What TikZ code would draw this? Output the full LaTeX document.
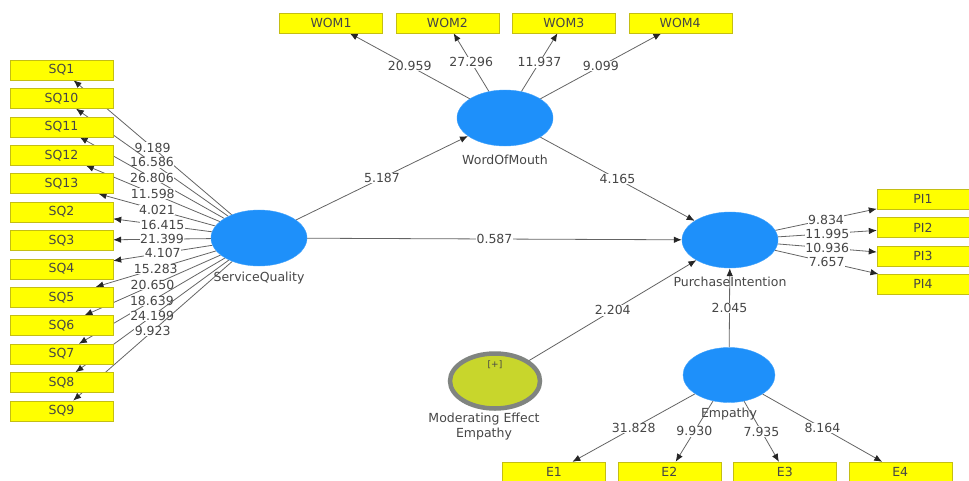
\documentclass[tikz,border=0pt]{standalone}
\usepackage{fontspec}
\setmainfont{DejaVu Sans}
\usepackage{xcolor}
\usepackage{tikz}
\usetikzlibrary{positioning, arrows.meta, shapes.geometric, backgrounds}
\definecolor{itemYellow}{RGB}{255,255,0}
\definecolor{itemEdge}{RGB}{196,190,20}
\definecolor{latentBlue}{RGB}{30,144,250}
\definecolor{modGreen}{RGB}{200,214,44}
\definecolor{modRing}{RGB}{128,132,128}
\definecolor{inkGray}{RGB}{70,70,70}
\definecolor{pathGray}{RGB}{100,100,100}
\tikzset{
    item/.style={rectangle, draw=itemEdge, fill=itemYellow, minimum width=103pt, minimum height=20pt, inner sep=0pt, text=inkGray, font=\fontsize{12.5}{14}\selectfont},
    latent/.style={ellipse, draw=latentBlue!85!white, fill=latentBlue, minimum width=96pt, minimum height=56pt, inner sep=0pt},
    moderator/.style={ellipse, draw=modRing, line width=4.5pt, fill=modGreen, minimum width=90pt, minimum height=55pt, inner sep=0pt},
    lvlabel/.style={text=inkGray, font=\fontsize{12.5}{15}\selectfont, align=center},
    coef/.style={text=inkGray, fill=white, inner sep=0.5pt, font=\fontsize{12.5}{14}\selectfont},
    arrow/.style={-{Latex[length=8pt, width=6.5pt, color=black!85]}, draw=pathGray, line width=0.8pt}
}
\begin{document}
\begin{tikzpicture}[x=1pt, y=-1pt, node distance=8pt]
    \useasboundingbox (0,0) rectangle (969,480);

    % Constructs
    \node[latent] (SQ) at (259,238) {};
    \node[lvlabel, below=2pt of SQ] (SQname) {ServiceQuality};
    \node[latent] (WOM) at (505,118) {};
    \node[lvlabel, below=5pt of WOM] (WOMname) {WordOfMouth};
    \node[latent] (PI) at (730,240) {};
    \node[lvlabel, below=5pt of PI] (PIname) {PurchaseIntention};
    \node[latent, minimum width=92pt, minimum height=55pt] (EMP) at (729,375) {};
    \node[lvlabel, below=2pt of EMP] (EMPname) {Empathy};
    \node[moderator] (MOD) at (495,381) {};
    \node[lvlabel, font=\fontsize{9}{10}\selectfont, below=6pt of MOD.north] (MODsign) {[+]};
    \node[lvlabel] (MODname) at (484,427) {Moderating Effect\\Empathy};

    % Service quality indicators
    \node[item] (SQ1) at (61.5,70) {SQ1};
    \node[item, below=of SQ1] (SQ10) {SQ10};
    \node[item, below=of SQ10] (SQ11) {SQ11};
    \node[item, below=of SQ11] (SQ12) {SQ12};
    \node[item, below=of SQ12] (SQ13) {SQ13};
    \node[item, below=of SQ13] (SQ2) {SQ2};
    \node[item, below=of SQ2] (SQ3) {SQ3};
    \node[item, below=of SQ3] (SQ4) {SQ4};
    \node[item, below=of SQ4] (SQ5) {SQ5};
    \node[item, below=of SQ5] (SQ6) {SQ6};
    \node[item, below=of SQ6] (SQ7) {SQ7};
    \node[item, below=of SQ7] (SQ8) {SQ8};
    \node[item, below=of SQ8] (SQ9) {SQ9};

    % Word of mouth indicators
    \node[item] (WOM1) at (331,23) {WOM1};
    \node[item, right=13pt of WOM1] (WOM2) {WOM2};
    \node[item, right=13pt of WOM2] (WOM3) {WOM3};
    \node[item, right=13pt of WOM3] (WOM4) {WOM4};

    % Purchase intention indicators
    \node[item, minimum width=92pt] (PI1) at (923,199) {PI1};
    \node[item, minimum width=92pt, below=of PI1] (PI2) {PI2};
    \node[item, minimum width=92pt, below=of PI2] (PI3) {PI3};
    \node[item, minimum width=92pt, below=of PI3] (PI4) {PI4};

    % Empathy indicators
    \node[item] (E1) at (554,472) {E1};
    \node[item, right=12pt of E1] (E2) {E2};
    \node[item, right=12pt of E2] (E3) {E3};
    \node[item, right=12pt of E3] (E4) {E4};

    \begin{scope}[on background layer]
        % Outer loadings
        \draw[arrow] (SQ) -- node[coef] {9.189} (SQ1);
        \draw[arrow] (SQ) -- node[coef] {16.586} (SQ10);
        \draw[arrow] (SQ) -- node[coef] {26.806} (SQ11);
        \draw[arrow] (SQ) -- node[coef] {11.598} (SQ12);
        \draw[arrow] (SQ) -- node[coef] {4.021} (SQ13);
        \draw[arrow] (SQ) -- node[coef] {16.415} (SQ2);
        \draw[arrow] (SQ) -- node[coef] {21.399} (SQ3);
        \draw[arrow] (SQ) -- node[coef] {4.107} (SQ4);
        \draw[arrow] (SQ) -- node[coef] {15.283} (SQ5);
        \draw[arrow] (SQ) -- node[coef] {20.650} (SQ6);
        \draw[arrow] (SQ) -- node[coef] {18.639} (SQ7);
        \draw[arrow] (SQ) -- node[coef] {24.199} (SQ8);
        \draw[arrow] (SQ) -- node[coef] {9.923} (SQ9);

        \draw[arrow] (WOM) -- node[coef] {20.959} (WOM1);
        \draw[arrow] (WOM) -- node[coef] {27.296} (WOM2);
        \draw[arrow] (WOM) -- node[coef] {11.937} (WOM3);
        \draw[arrow] (WOM) -- node[coef] {9.099} (WOM4);

        \draw[arrow] (PI) -- node[coef] {9.834} (PI1);
        \draw[arrow] (PI) -- node[coef] {11.995} (PI2);
        \draw[arrow] (PI) -- node[coef] {10.936} (PI3);
        \draw[arrow] (PI) -- node[coef] {7.657} (PI4);

        \draw[arrow] (EMP) -- node[coef] {31.828} (E1);
        \draw[arrow] (EMP) -- node[coef] {9.930} (E2);
        \draw[arrow] (EMP) -- node[coef] {7.935} (E3);
        \draw[arrow] (EMP) -- node[coef] {8.164} (E4);

        % Inner paths
        \draw[arrow] (SQ) -- node[coef] {5.187} (WOM);
        \draw[arrow] (SQ) -- node[coef] {0.587} (PI);
        \draw[arrow] (WOM) -- node[coef] {4.165} (PI);
        \draw[arrow] (MOD) -- node[coef] {2.204} (PI);
        \draw[arrow] (EMP) -- node[coef] {2.045} (PI);
    \end{scope}
\end{tikzpicture}
\end{document}
